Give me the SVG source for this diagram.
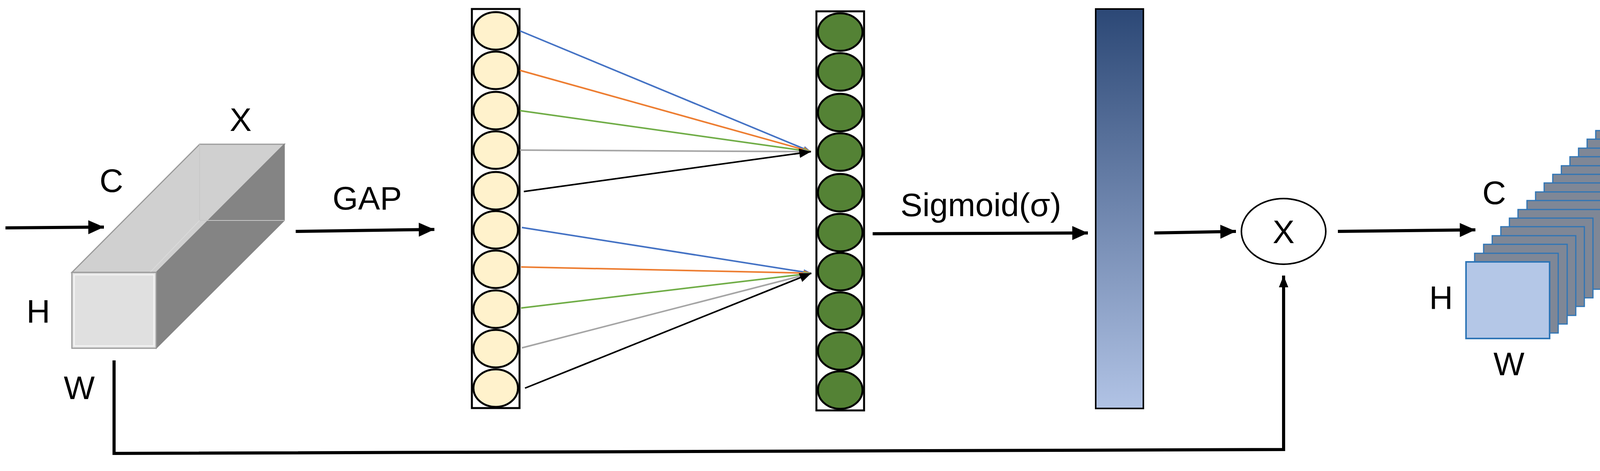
<svg xmlns="http://www.w3.org/2000/svg" width="4323" height="1205" viewBox="0 0 4323 1205">
<style>
text{font-family:"Liberation Sans",Arial,"DejaVu Sans",sans-serif;font-size:84px;fill:#000;text-anchor:middle}
.in{fill:#FFF2CC;stroke:#000;stroke-width:5}
.out{fill:#548235;stroke:#000;stroke-width:5}
.col{fill:none;stroke:#000;stroke-width:5}
.arr{stroke:#000;stroke-width:8;fill:none}
.fc{stroke-width:4;fill:none}
.sl{fill:#7F8796;stroke:#2E75B6;stroke-width:3}
</style>
<defs>
<marker id="ah" markerWidth="10" markerHeight="10" refX="9" refY="5" orient="auto" markerUnits="userSpaceOnUse" viewBox="0 0 10 10" style="overflow:visible">
<path d="M0,0 L10,5 L0,10 z" fill="#000" transform="scale(4,3.6) translate(-7.5,-3.6)"/>
</marker>
<marker id="big" viewBox="0 0 40 40" refX="40" refY="20" markerWidth="40" markerHeight="40" markerUnits="userSpaceOnUse" orient="auto"><path d="M0,2 L40,20 L0,38 z" fill="#000"/></marker>
<marker id="mb" viewBox="0 0 30 24" refX="30" refY="12" markerWidth="30" markerHeight="24" markerUnits="userSpaceOnUse" orient="auto"><path d="M0,0 L30,12 L0,24 z" fill="#000"/></marker>
<marker id="sm" viewBox="0 0 20 14" refX="20" refY="7" markerWidth="20" markerHeight="14" markerUnits="userSpaceOnUse" orient="auto"><path d="M0,0 L20,7 L0,14 z" fill="context-stroke"/></marker>
<linearGradient id="bar" x1="0" y1="0" x2="0" y2="1"><stop offset="0" stop-color="#2C4876"/><stop offset="1" stop-color="#B1C3E5"/></linearGradient>
</defs>

<g id="input-tensor">
<polygon points="184,697 511,369 728,369 400,697" fill="#D0D0D0" stroke="#9A9A9A" stroke-width="3"/>
<polygon points="400,697 728,369 728,564 400,891" fill="#848484" stroke="#848484" stroke-width="2"/>
<line x1="511" y1="369" x2="511" y2="564" stroke="#C8C8C8" stroke-width="2"/>
<line x1="511" y1="564" x2="728" y2="564" stroke="#C8C8C8" stroke-width="2"/>
<line x1="511" y1="564" x2="384" y2="697" stroke="#DADADA" stroke-width="2"/>
<rect x="184" y="697" width="216" height="194" fill="#E0E0E0" stroke="#9A9A9A" stroke-width="3"/>
<rect x="190" y="703" width="204" height="182" fill="none" stroke="#F4F4F4" stroke-width="3"/>
<text x="616" y="335">X</text>
<text x="285" y="491">C</text>
<text x="98" y="826">H</text>
<text x="203" y="1021">W</text>
</g>

<g id="gap-label"><text x="940" y="536">GAP</text></g>

<g id="input-vector">
<rect class="col" x="1208" y="23" width="122" height="1021"/>
<ellipse class="in" cx="1269" cy="79" rx="57" ry="48"/>
<ellipse class="in" cx="1269" cy="180" rx="57" ry="48"/>
<ellipse class="in" cx="1269" cy="283" rx="57" ry="48"/>
<ellipse class="in" cx="1269" cy="384" rx="57" ry="48"/>
<ellipse class="in" cx="1269" cy="488" rx="57" ry="48"/>
<ellipse class="in" cx="1269" cy="588" rx="57" ry="48"/>
<ellipse class="in" cx="1269" cy="689" rx="57" ry="48"/>
<ellipse class="in" cx="1269" cy="791" rx="57" ry="48"/>
<ellipse class="in" cx="1269" cy="892" rx="57" ry="48"/>
<ellipse class="in" cx="1269" cy="993" rx="57" ry="48"/>
</g>

<g id="fc-vector">
<rect class="col" x="2090" y="29" width="122" height="1021"/>
<ellipse class="out" cx="2151" cy="82" rx="57" ry="48"/>
<ellipse class="out" cx="2151" cy="184" rx="57" ry="48"/>
<ellipse class="out" cx="2151" cy="288" rx="57" ry="48"/>
<ellipse class="out" cx="2151" cy="389" rx="57" ry="48"/>
<ellipse class="out" cx="2151" cy="493" rx="57" ry="48"/>
<ellipse class="out" cx="2151" cy="595" rx="57" ry="48"/>
<ellipse class="out" cx="2151" cy="695" rx="57" ry="48"/>
<ellipse class="out" cx="2151" cy="796" rx="57" ry="48"/>
<ellipse class="out" cx="2151" cy="898" rx="57" ry="48"/>
<ellipse class="out" cx="2151" cy="998" rx="57" ry="48"/>
</g>

<g id="sigmoid-label"><text x="2511" y="553">Sigmoid(σ)</text></g>

<g id="attention-bar"><rect x="2805" y="23" width="122" height="1022" fill="url(#bar)" stroke="#000" stroke-width="4"/></g>

<g id="multiply">
<ellipse cx="3286" cy="592" rx="108" ry="84" fill="#fff" stroke="#000" stroke-width="4"/>
<text x="3286" y="622">X</text>
</g>

<g id="output-tensor">
<rect class="sl" x="4085" y="334" width="214" height="204"/>
<rect class="sl" x="4063" y="356" width="214" height="204"/>
<rect class="sl" x="4041" y="379" width="214" height="204"/>
<rect class="sl" x="4019" y="401" width="214" height="204"/>
<rect class="sl" x="3997" y="424" width="214" height="204"/>
<rect class="sl" x="3975" y="446" width="214" height="204"/>
<rect class="sl" x="3953" y="468" width="214" height="204"/>
<rect class="sl" x="3931" y="491" width="214" height="204"/>
<rect class="sl" x="3909" y="513" width="214" height="204"/>
<rect class="sl" x="3886" y="536" width="214" height="204"/>
<rect class="sl" x="3864" y="558" width="214" height="204"/>
<rect class="sl" x="3842" y="580" width="214" height="204"/>
<rect class="sl" x="3820" y="603" width="214" height="204"/>
<rect class="sl" x="3798" y="625" width="214" height="204"/>
<rect class="sl" x="3775" y="648" width="214" height="204"/>
<rect x="3753" y="670" width="214" height="196" fill="#B4C7E7" stroke="#2E75B6" stroke-width="4"/>
<text x="4183" y="299">Ẋ</text>
<text x="3825" y="522">C</text>
<text x="3689" y="791">H</text>
<text x="3863" y="960">W</text>
</g>

<g id="connectors">
<line class="arr" x1="14" y1="583" x2="266" y2="581" marker-end="url(#big)"/>
<line class="arr" x1="757" y1="592" x2="1112" y2="587" marker-end="url(#big)"/>
<line class="arr" x1="2234" y1="598" x2="2785" y2="596" marker-end="url(#big)"/>
<line class="arr" x1="2955" y1="596" x2="3164" y2="592" marker-end="url(#big)"/>
<line class="arr" x1="3425" y1="592" x2="3777" y2="588" marker-end="url(#big)"/>
<polyline class="arr" points="292,922 292,1160 3286,1150 3286,705" marker-end="url(#mb)"/>
<line class="fc" stroke="#4472C4" x1="1331" y1="79" x2="2076" y2="388" marker-end="url(#sm)"/>
<line class="fc" stroke="#ED7D31" x1="1331" y1="180" x2="2076" y2="388" marker-end="url(#sm)"/>
<line class="fc" stroke="#70AD47" x1="1331" y1="283" x2="2076" y2="388" marker-end="url(#sm)"/>
<line class="fc" stroke="#A5A5A5" x1="1331" y1="384" x2="2076" y2="388" marker-end="url(#sm)"/>
<line class="fc" stroke="#000" stroke-width="5" x1="1341" y1="490" x2="2076" y2="388" marker-end="url(#mb)"/>
<line class="fc" stroke="#4472C4" x1="1336" y1="582" x2="2077" y2="699" marker-end="url(#sm)"/>
<line class="fc" stroke="#ED7D31" x1="1334" y1="683" x2="2077" y2="699" marker-end="url(#sm)"/>
<line class="fc" stroke="#70AD47" x1="1334" y1="788" x2="2077" y2="699" marker-end="url(#sm)"/>
<line class="fc" stroke="#A5A5A5" x1="1336" y1="890" x2="2077" y2="699" marker-end="url(#sm)"/>
<line class="fc" stroke="#000" stroke-width="5" x1="1344" y1="993" x2="2077" y2="699" marker-end="url(#mb)"/>
</g>
</svg>
